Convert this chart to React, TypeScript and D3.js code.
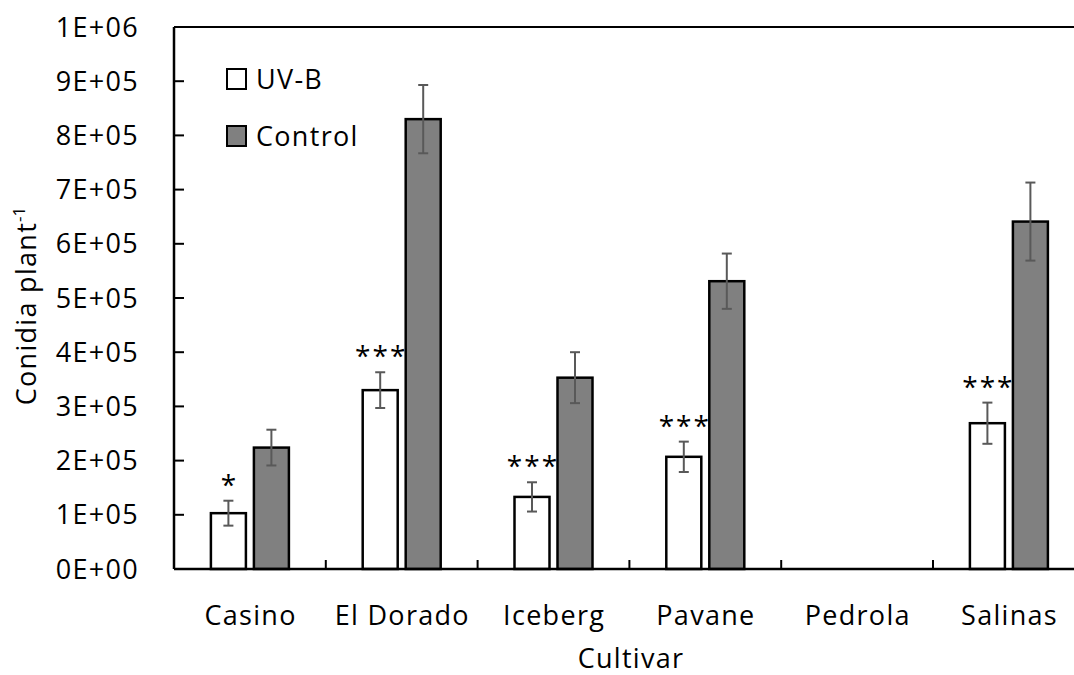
import React from "react";
import * as d3 from "d3";

const categories = ["Casino", "El Dorado", "Iceberg", "Pavane", "Pedrola", "Salinas"];
const seriesNames = ["UV-B", "Control"];
const uvbValues: (number | null)[] = [1.03e5, 3.30e5, 1.33e5, 2.07e5, null, 2.69e5];
const uvbErrors: (number | null)[] = [0.23e5, 0.33e5, 0.27e5, 0.28e5, null, 0.38e5];
const controlValues: (number | null)[] = [2.24e5, 8.30e5, 3.53e5, 5.31e5, null, 6.41e5];
const controlErrors: (number | null)[] = [0.33e5, 0.63e5, 0.47e5, 0.51e5, null, 0.72e5];
const significance = ["*", "***", "***", "***", "", "***"];
const yTicks = [0, 1e5, 2e5, 3e5, 4e5, 5e5, 6e5, 7e5, 8e5, 9e5, 1e6];
const yTickLabels = ["0E+00", "1E+05", "2E+05", "3E+05", "4E+05", "5E+05", "6E+05", "7E+05", "8E+05", "9E+05", "1E+06"];

const W = 1074;
const H = 675;
const left = 174;
const bandW = 151.8;
const top = 27;
const bottom = 569;
const FONT = "'Open Sans', 'Noto Sans', sans-serif";
const FS = 27;
const LS = 1.3;

export default function App() {
  const x = d3.scaleBand<string>().domain(categories).range([left, left + bandW * categories.length]).paddingInner(0).paddingOuter(0);
  const sub = d3.scaleBand<string>().domain(seriesNames).range([-39, 39]).paddingInner(0.186).paddingOuter(0);
  const y = d3.scaleLinear().domain([0, 1e6]).range([bottom, top]);
  const fills = ["#ffffff", "#808080"];
  const series = [
    { name: seriesNames[0], values: uvbValues, errors: uvbErrors, fill: fills[0] },
    { name: seriesNames[1], values: controlValues, errors: controlErrors, fill: fills[1] },
  ];
  const right = left + bandW * categories.length;

  return (
    <svg width={W} height={H} style={{ position: "absolute", left: 0, top: 0, background: "#fff" }} fontFamily={FONT}>
      <rect x={0} y={0} width={W} height={H} fill="#fff" />
      {/* top frame */}
      <line x1={left} x2={right} y1={y(1e6)} y2={y(1e6)} stroke="#000" strokeWidth={2} />
      {/* y ticks */}
      {yTicks.map((t, i) => (
        <g key={t}>
          {i > 0 && i < yTicks.length - 1 && (
            <line x1={left} x2={left + 10} y1={y(t)} y2={y(t)} stroke="#000" strokeWidth={2} />
          )}
          <text x={139} y={y(t) + 9.5} textAnchor="end" fontSize={FS} letterSpacing={LS} fill="#000">
            {yTickLabels[i]}
          </text>
        </g>
      ))}
      {/* bars */}
      {categories.map((c, ci) => {
        const cx = (x(c) as number) + x.bandwidth() / 2;
        return (
          <g key={c}>
            {series.map((s) => {
              const v = s.values[ci];
              if (v == null) return null;
              const bx = cx + (sub(s.name) as number);
              const bw = sub.bandwidth();
              const e = s.errors[ci] as number;
              const mx = bx + bw / 2;
              return (
                <g key={s.name}>
                  <rect x={bx} y={y(v)} width={bw} height={y(0) - y(v)} fill={s.fill} stroke="#000" strokeWidth={2.5} />
                  <line x1={mx} x2={mx} y1={y(v + e)} y2={y(v - e)} stroke="#595959" strokeWidth={2} />
                  <line x1={mx - 5} x2={mx + 5} y1={y(v + e)} y2={y(v + e)} stroke="#595959" strokeWidth={2} />
                  <line x1={mx - 5} x2={mx + 5} y1={y(v - e)} y2={y(v - e)} stroke="#595959" strokeWidth={2} />
                </g>
              );
            })}
            {significance[ci] && uvbValues[ci] != null && (
              <text
                x={cx + (sub(seriesNames[0]) as number) + sub.bandwidth() / 2 + 1}
                y={y((uvbValues[ci] as number) + (uvbErrors[ci] as number)) - 6}
                textAnchor="middle"
                fontSize={28}
                letterSpacing={2}
                fill="#000"
              >
                {significance[ci]}
              </text>
            )}
            <text x={cx + LS / 2} y={625} textAnchor="middle" fontSize={FS} letterSpacing={LS} fill="#000">
              {c}
            </text>
          </g>
        );
      })}
      {/* x category ticks */}
      {categories.slice(1).map((c) => (
        <line key={c} x1={x(c) as number} x2={x(c) as number} y1={bottom} y2={bottom - 9} stroke="#000" strokeWidth={2} />
      ))}
      {/* axes */}
      <line x1={left} x2={left} y1={top} y2={bottom} stroke="#000" strokeWidth={2.5} />
      <line x1={left} x2={right} y1={bottom} y2={bottom} stroke="#000" strokeWidth={2.5} />
      {/* axis titles */}
      <text x={631} y={668} textAnchor="middle" fontSize={FS} letterSpacing={LS} fill="#000">
        Cultivar
      </text>
      <text transform={`translate(36, 306) rotate(-90)`} textAnchor="middle" fontSize={FS} letterSpacing={LS} fill="#000">
        Conidia plant<tspan fontSize={17} letterSpacing={0} dy={-11}>-1</tspan>
      </text>
      {/* legend */}
      {series.map((s, i) => (
        <g key={s.name} transform={`translate(227, ${69 + i * 57})`}>
          <rect x={0} y={0} width={19} height={20} fill={s.fill} stroke="#000" strokeWidth={2} />
          <text x={29} y={10 + 9.5} fontSize={FS} letterSpacing={LS} fill="#000">
            {s.name}
          </text>
        </g>
      ))}
    </svg>
  );
}
